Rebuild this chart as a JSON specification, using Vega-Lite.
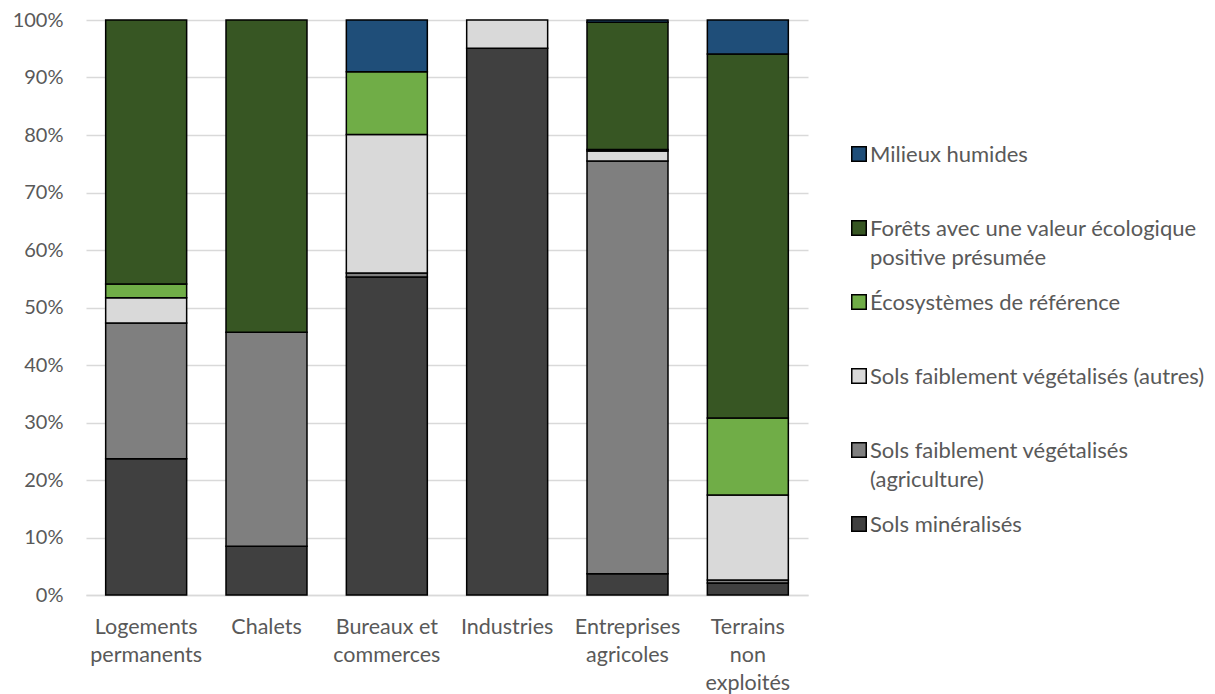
{
  "$schema": "https://vega.github.io/schema/vega-lite/v6.json",
  "width": 722,
  "height": 575,
  "autosize": {"type": "none"},
  "padding": {"left": 86, "top": 20, "right": 407, "bottom": 99},
  "background": "white",
  "config": {
    "font": "Lato",
    "view": {"stroke": null},
    "axis": {"labelFont": "Lato", "labelColor": "#595959", "labelFontSize": 20}
  },
  "data": {
    "values": [
      {"categorie": "Logements permanents", "type": "Sols minéralisés", "valeur": 23.7, "rang": 1},
      {"categorie": "Logements permanents", "type": "Sols faiblement végétalisés (agriculture)", "valeur": 23.6, "rang": 2},
      {"categorie": "Logements permanents", "type": "Sols faiblement végétalisés (autres)", "valeur": 4.4, "rang": 3},
      {"categorie": "Logements permanents", "type": "Écosystèmes de référence", "valeur": 2.4, "rang": 4},
      {"categorie": "Logements permanents", "type": "Forêts avec une valeur écologique positive présumée", "valeur": 45.9, "rang": 5},
      {"categorie": "Chalets", "type": "Sols minéralisés", "valeur": 8.5, "rang": 1},
      {"categorie": "Chalets", "type": "Sols faiblement végétalisés (agriculture)", "valeur": 37.2, "rang": 2},
      {"categorie": "Chalets", "type": "Forêts avec une valeur écologique positive présumée", "valeur": 54.3, "rang": 5},
      {"categorie": "Bureaux et commerces", "type": "Sols minéralisés", "valeur": 55.3, "rang": 1},
      {"categorie": "Bureaux et commerces", "type": "Sols faiblement végétalisés (agriculture)", "valeur": 0.7, "rang": 2},
      {"categorie": "Bureaux et commerces", "type": "Sols faiblement végétalisés (autres)", "valeur": 24.1, "rang": 3},
      {"categorie": "Bureaux et commerces", "type": "Écosystèmes de référence", "valeur": 10.9, "rang": 4},
      {"categorie": "Bureaux et commerces", "type": "Milieux humides", "valeur": 9.0, "rang": 6},
      {"categorie": "Industries", "type": "Sols minéralisés", "valeur": 95.1, "rang": 1},
      {"categorie": "Industries", "type": "Sols faiblement végétalisés (autres)", "valeur": 4.9, "rang": 3},
      {"categorie": "Entreprises agricoles", "type": "Sols minéralisés", "valeur": 3.7, "rang": 1},
      {"categorie": "Entreprises agricoles", "type": "Sols faiblement végétalisés (agriculture)", "valeur": 71.8, "rang": 2},
      {"categorie": "Entreprises agricoles", "type": "Sols faiblement végétalisés (autres)", "valeur": 1.7, "rang": 3},
      {"categorie": "Entreprises agricoles", "type": "Écosystèmes de référence", "valeur": 0.3, "rang": 4},
      {"categorie": "Entreprises agricoles", "type": "Forêts avec une valeur écologique positive présumée", "valeur": 22.1, "rang": 5},
      {"categorie": "Entreprises agricoles", "type": "Milieux humides", "valeur": 0.4, "rang": 6},
      {"categorie": "Terrains non exploités", "type": "Sols minéralisés", "valeur": 2.1, "rang": 1},
      {"categorie": "Terrains non exploités", "type": "Sols faiblement végétalisés (agriculture)", "valeur": 0.5, "rang": 2},
      {"categorie": "Terrains non exploités", "type": "Sols faiblement végétalisés (autres)", "valeur": 14.8, "rang": 3},
      {"categorie": "Terrains non exploités", "type": "Écosystèmes de référence", "valeur": 13.4, "rang": 4},
      {"categorie": "Terrains non exploités", "type": "Forêts avec une valeur écologique positive présumée", "valeur": 63.3, "rang": 5},
      {"categorie": "Terrains non exploités", "type": "Milieux humides", "valeur": 5.9, "rang": 6}
    ]
  },
  "mark": {"type": "bar", "stroke": "black", "strokeWidth": 1.5},
  "encoding": {
    "x": {
      "field": "categorie",
      "type": "nominal",
      "sort": ["Logements permanents", "Chalets", "Bureaux et commerces", "Industries", "Entreprises agricoles", "Terrains non exploités"],
      "scale": {"paddingInner": 0.327, "paddingOuter": 0.1635},
      "axis": {
        "title": null,
        "labelAngle": 0,
        "ticks": false,
        "domainColor": "#D9D9D9",
        "domainWidth": 1.5,
        "labelFontSize": 21.5,
        "labelPadding": 21,
        "labelLineHeight": 28,
        "labelBaseline": "top",
        "labelLimit": 0,
        "labelOverlap": false,
        "labelExpr": "datum.label == 'Logements permanents' ? ['Logements', 'permanents'] : datum.label == 'Bureaux et commerces' ? ['Bureaux et', 'commerces'] : datum.label == 'Entreprises agricoles' ? ['Entreprises', 'agricoles'] : datum.label == 'Terrains non exploités' ? ['Terrains', 'non', 'exploités'] : datum.label"
      }
    },
    "y": {
      "field": "valeur",
      "type": "quantitative",
      "stack": "normalize",
      "scale": {"domain": [0, 1]},
      "axis": {
        "title": null,
        "format": "%",
        "values": [0, 0.1, 0.2, 0.3, 0.4, 0.5, 0.6, 0.7, 0.8, 0.9, 1],
        "labelOverlap": false,
        "domain": false,
        "ticks": false,
        "gridColor": "#D9D9D9",
        "gridWidth": 1.5,
        "labelPadding": 23
      }
    },
    "order": {"field": "rang", "type": "quantitative", "sort": "ascending"},
    "color": {
      "field": "type",
      "type": "nominal",
      "scale": {
        "domain": ["Milieux humides", "Forêts avec une valeur écologique positive présumée", "Écosystèmes de référence", "Sols faiblement végétalisés (autres)", "Sols faiblement végétalisés (agriculture)", "Sols minéralisés"],
        "range": ["#1F4E79", "#375623", "#70AD47", "#D9D9D9", "#7F7F7F", "#404040"]
      },
      "legend": {
        "title": null,
        "orient": "none",
        "legendX": 762,
        "legendY": 123,
        "symbolType": "square",
        "symbolSize": 210,
        "symbolStrokeColor": "black",
        "symbolStrokeWidth": 1.5,
        "symbolOpacity": 1,
        "labelFont": "Lato",
        "labelFontSize": 22,
        "labelColor": "#595959",
        "labelOffset": 0,
        "labelLimit": 0,
        "labelBaseline": "top",
        "gridAlign": "all",
        "rowPadding": 22,
        "encode": {"labels": {"update": {"dy": {"value": -9}, "lineHeight": {"value": 29}}}},
        "labelExpr": "datum.label == 'Forêts avec une valeur écologique positive présumée' ? ['Forêts avec une valeur écologique', 'positive présumée'] : datum.label == 'Sols faiblement végétalisés (agriculture)' ? ['Sols faiblement végétalisés', '(agriculture)'] : datum.label"
      }
    }
  }
}
